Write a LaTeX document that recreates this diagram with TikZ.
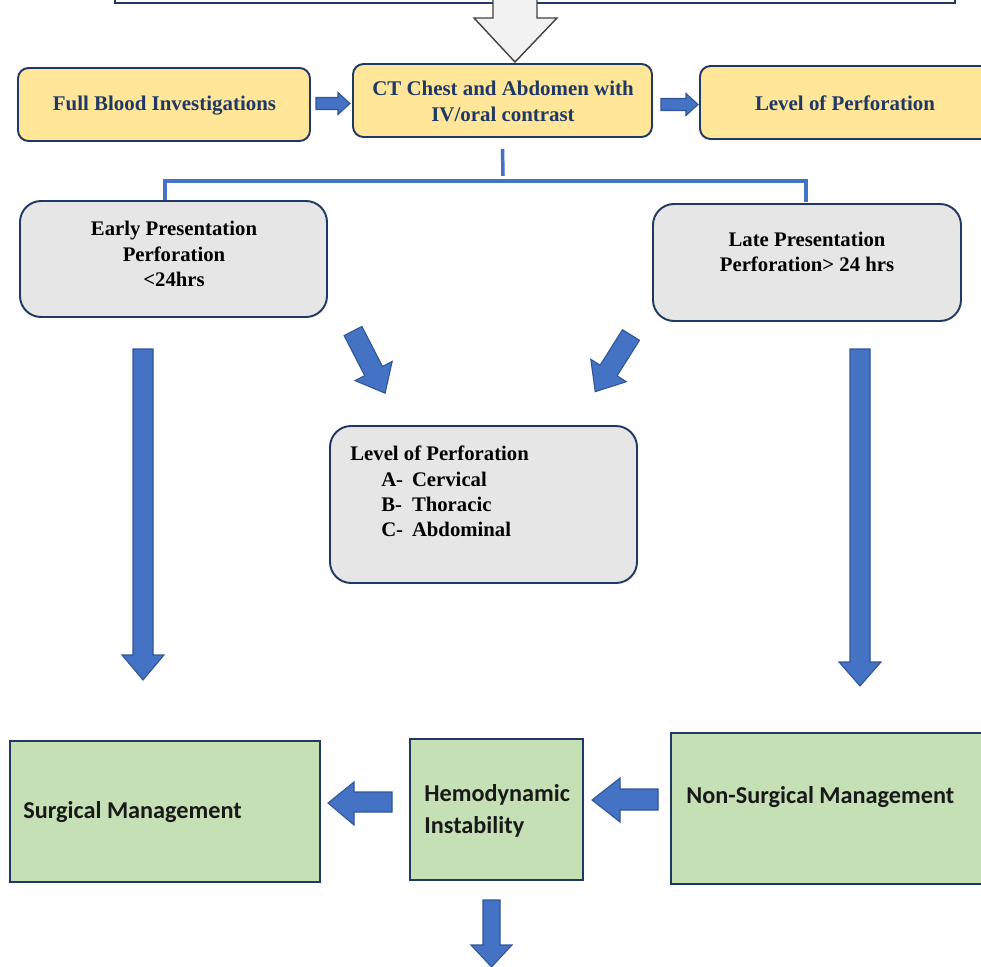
\documentclass[tikz,border=0pt]{standalone}
\usepackage{fontspec}
\setmainfont{Liberation Serif}
\newfontfamily\carl{Carlito}
\usetikzlibrary{fit,calc}
\definecolor{navy}{HTML}{203864}
\definecolor{yel}{HTML}{FFE699}
\definecolor{gry}{HTML}{E7E6E6}
\definecolor{grn}{HTML}{C5E0B4}
\definecolor{blu}{HTML}{4472C4}
\definecolor{bluedge}{HTML}{2F5597}
\definecolor{txtblue}{HTML}{1F3864}
\definecolor{hollowfill}{HTML}{F2F2F2}
\definecolor{hollowedge}{HTML}{404040}
\tikzset{
  boxbase/.style={draw=navy, line width=1.1pt, inner sep=0pt},
  ybox/.style={boxbase, fill=yel, rounded corners=6pt},
  gbox/.style={boxbase, fill=gry, rounded corners=12pt},
  grbox/.style={draw=navy, line width=0.9pt, fill=grn, inner sep=0pt},
  topbox/.style={draw=navy, line width=1.1pt, fill=white, inner sep=0pt},
  ytext/.style={font=\fontsize{11.9pt}{14.8pt}\selectfont\bfseries, text=txtblue, align=center, inner sep=0pt},
  gtext/.style={font=\fontsize{11.8pt}{14.3pt}\selectfont\bfseries, text=black, align=center, inner sep=0pt},
  ltext/.style={font=\fontsize{11.8pt}{14.4pt}\selectfont\bfseries, text=black, align=left, inner sep=0pt, anchor=north west},
  stext/.style={font=\carl\fontsize{13.8pt}{18.1pt}\selectfont\bfseries, text=black!90, align=left, inner sep=0pt, anchor=west},
  blockarrow/.style={fill=blu, draw=bluedge, line width=0.6pt, line join=miter},
  hollowarrow/.style={fill=hollowfill, draw=hollowedge, line width=0.8pt},
  conn/.style={draw=blu, line width=2pt}
}
\begin{document}
\begin{tikzpicture}[x=0.02cm, y=-0.02cm]
\useasboundingbox (0,0) rectangle (981,967);
\clip (0,0) rectangle (981,967);

% partial top box
\node[topbox, fit={(115,-40)(955,3)}] (topb) {};
% hollow arrow
\draw[hollowarrow] (493,-5) -- (537,-5) -- (537,18) -- (557,18) -- (515,62) -- (474,18) -- (493,18) -- cycle;

% yellow boxes
\node[ybox, fit={(18,68)(310,141)}] (fbi) {};
\node[ytext] (fbit) at (164.5,106) {Full Blood Investigations};
\node[ybox, fit={(353,64)(652,137)}] (ct) {};
\node[ytext] (ctt) at (503,101) {CT Chest and Abdomen with\\IV/oral contrast};
\node[ybox, fit={(700,66)(1000,139)}] (lop) {};
\node[ytext] (lopt) at (845,103) {Level of Perforation};

% small arrows
\draw[blockarrow] (316,97.5) -- (338,97.5) -- (338,92.5) -- (350,103.5) -- (338,114.5) -- (338,109.5) -- (316,109.5) -- cycle;
\draw[blockarrow] (661,98.5) -- (686,98.5) -- (686,93.5) -- (698,104.5) -- (686,115.5) -- (686,110.5) -- (661,110.5) -- cycle;

% connector
\coordinate (jl) at (165,181);
\coordinate (jr) at (806,181);
\draw[conn] ($(ct.south)+(0,11)$) -- ($(ct.south)+(0.5,38)$);
\draw[conn] (jl |- 0,201) -- (jl) -- (jr) -- (jr |- 0,202);

% gray boxes
\node[gbox, fit={(20,201)(327,317)}] (early) {};
\node[gtext] (earlyt) at (174,254) {Early Presentation\\Perforation\\<24hrs};
\node[gbox, fit={(653,204)(961,321)}] (late) {};
\node[gtext] (latet) at (807,252) {Late Presentation\\Perforation> 24 hrs};
\node[gbox, fit={(330,426)(637,583)}] (lvl) {};
\node[ltext] (lvlt) at (350,446) {Level of Perforation\\
\hspace*{17.6pt}\makebox[17.5pt][l]{A-}Cervical\\
\hspace*{17.6pt}\makebox[17.5pt][l]{B-}Thoracic\\
\hspace*{17.6pt}\makebox[17.5pt][l]{C-}Abdominal};

% diagonal arrows
\draw[blockarrow] (344.1,335.6) -- (361.9,326.4) -- (382.5,366.4) -- (392.2,361.4) -- (385.1,393.2) -- (355,380.6) -- (364.7,375.6) -- cycle;
\draw[blockarrow] (622.5,329.7) -- (639.5,340.3) -- (617.1,375.8) -- (626.4,381.7) -- (595.2,391.7) -- (590.8,359.3) -- (600.1,365.2) -- cycle;

% long vertical arrows
\draw[blockarrow] (133,349) -- (153,349) -- (153,655) -- (164,655) -- (143,680) -- (122,655) -- (133,655) -- cycle;
\draw[blockarrow] (850,349) -- (870,349) -- (870,662) -- (881,662) -- (860,686) -- (839,662) -- (850,662) -- cycle;

% green boxes
\node[grbox, fit={(10,741)(320,882)}] (surg) {};
\node[stext] (surgt) at (23,812) {Surgical Management};
\node[grbox, fit={(410,739)(583,880)}] (hemo) {};
\node[stext] (hemot) at (424,811) {Hemodynamic\\Instability};
\node[grbox, fit={(671,733)(1000,884)}] (nons) {};
\node[stext] (nonst) at (686,797) {Non-Surgical Management};

% bottom arrows
\draw[blockarrow] (392,792) -- (354,792) -- (354,782) -- (328,803) -- (354,825) -- (354,812) -- (392,812) -- cycle;
\draw[blockarrow] (658,789) -- (620,789) -- (620,778) -- (592,800) -- (620,822) -- (620,810) -- (658,810) -- cycle;
\draw[blockarrow] (483,900) -- (500,900) -- (500,945) -- (512,945) -- (491.5,967) -- (471,945) -- (483,945) -- cycle;
\end{tikzpicture}
\end{document}
